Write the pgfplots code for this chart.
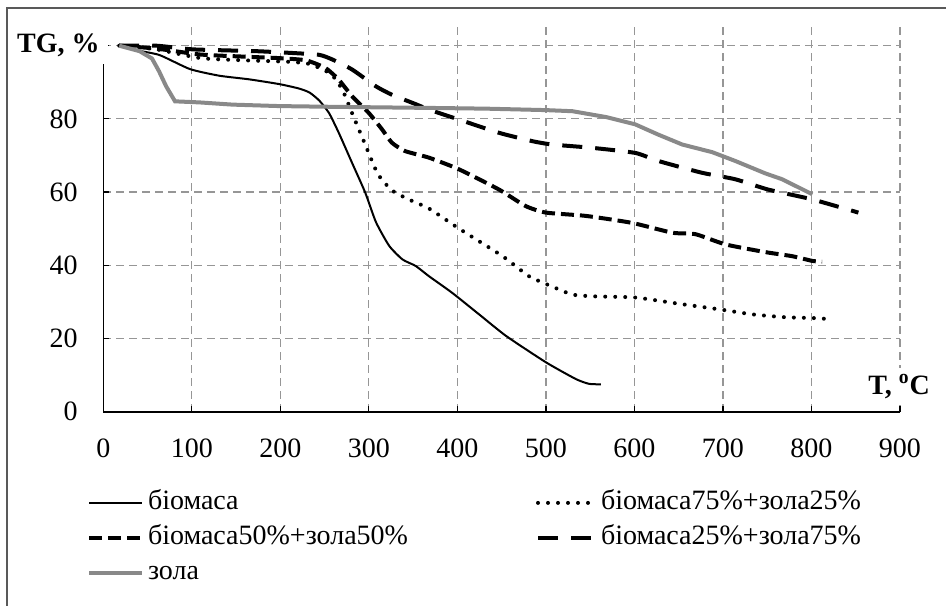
\documentclass[border=0pt]{standalone}
\usepackage{fontspec}
\setmainfont{Liberation Serif}
\usepackage{pgfplots}
\pgfplotsset{compat=1.18}
\definecolor{ashgray}{RGB}{137,137,137}
\definecolor{gridgray}{RGB}{150,150,150}
\begin{document}
\fontsize{14}{16.8}\selectfont
\begin{tikzpicture}[x=1pt,y=1pt]
\useasboundingbox (0,0) rectangle (473,302.5);
\draw[line width=0.75pt, color=black!65] (3.5,-2) -- (3.5,298.5) -- (476,298.5);
\begin{axis}[
  at={(51.65pt,96.65pt)}, anchor=south west,
  scale only axis, width=398.35pt, height=192.15pt,
  xmin=0, xmax=900, ymin=0, ymax=105,
  axis lines=left, axis line style={-, line width=0.8pt, black},
  xtick={0,100,...,900}, ytick={0,20,...,100},
  yticklabels={0,20,40,60,80,{}},
  xticklabel style={yshift=-8.75pt},
  yticklabel style={xshift=-8pt},
  tick align=inside, major tick length=3pt, tick style={black, line width=0.6pt},
  grid=major, grid style={dash pattern=on 4pt off 2.5pt, line width=0.6pt, color=gridgray},
  /pgf/number format/assume math mode=true,
  legend columns=2,
  legend cell align=left,
  legend style={draw=none, fill=none, inner sep=0pt, outer sep=0pt,
    at={(axis description cs:-0.02046,-0.2022)}, anchor=north west,
    row sep=4pt, column sep=2pt,
    nodes={inner sep=0pt, text height=10pt, text depth=3.5pt}},
  legend image code/.code={\draw[#1] (0pt,0pt) -- (26.5pt,0pt);},
]
\addplot[black, line width=1pt, smooth, tension=0.35] coordinates {
(18,100) (41,98.6) (64,97.4) (98,93.6) (131,91.8) (165,90.8) (199,89.5) (221,88.3) (233,87.2) (244,85) (255,81.6) (266,76.2) (281,68) (296,59.8) (308,51.8) (323,45.3) (338,41.6) (353,39.8) (368,37) (394,32.5) (425,26.5) (455,20.7) (500,13.5) (534,8.9) (549,7.6) (562,7.5)};
\addlegendentry{\makebox[192pt][l]{біомаса}}
\addplot[black, line width=2pt, line cap=round, dash pattern=on 0pt off 5pt, smooth, tension=0.35] coordinates {
(18,100) (60,99) (110,96.6) (160,96) (210,95.6) (233,95) (252,93) (262,91) (271,87.5) (282,81) (295,73.5) (310,65) (326,60.5) (345,58) (368,55.5) (402,50) (451,42.5) (481,37) (507,34.2) (530,32) (556,31.5) (601,31.2) (650,29.5) (695,28) (733,26.6) (771,25.8) (801,25.6) (820,25.3)};
\addlegendentry{\hspace*{2pt}біомаса75\%+зола25\%}
\addplot[black, line width=2pt, dash pattern=on 6.5pt off 3pt, smooth, tension=0.35] coordinates {
(18,100) (60,99.2) (109,97.6) (160,97) (199,96.6) (229,96) (251,93.9) (266,90.7) (281,86.2) (300,81.6) (315,77.1) (326,73.5) (341,71.2) (368,69.4) (402,66.2) (447,60.7) (477,56.2) (500,54.4) (545,53.5) (597,51.6) (643,48.9) (669,48.5) (703,45.7) (748,43.6) (778,42.5) (801,41.2) (812,41)};
\addlegendentry{\makebox[192pt][l]{біомаса50\%+зола50\%}}
\addplot[black, line width=2pt, dash pattern=on 10pt off 6.5pt, smooth, tension=0.35] coordinates {
(18,100) (60,100) (101,99) (173,98.5) (214,98) (244,97.5) (259,96.2) (281,93.5) (308,88.9) (326,86.6) (349,84.4) (372,82.2) (402,79.8) (447,76.2) (485,73.9) (507,73) (552,72.1) (601,70.7) (627,68.5) (676,65.3) (714,63.5) (751,60.7) (801,58) (853,54.4)};
\addlegendentry{\hspace*{2pt}біомаса25\%+зола75\%}
\addplot[ashgray, line width=2pt] coordinates {
(18,100) (41,98.5) (55,96.5) (63,93) (71,88.9) (81,84.8) (109,84.5) (146,83.9) (199,83.5) (259,83.3) (368,83) (432,82.8) (500,82.4) (530,82.1) (568,80.5) (601,78.5) (627,75.7) (654,73) (688,70.9) (714,68.5) (748,65.1) (767,63.5) (801,59.4)};
\addlegendentry{\makebox[192pt][l]{зола}}
\coordinate (tg) at (axis cs:0,100);
\coordinate (tc) at (axis cs:899,6.9);
\end{axis}
\node[fill=white, inner xsep=4pt, inner ysep=0pt, minimum height=18.5pt, anchor=east, font=\bfseries] at ([xshift=2.35pt]tg) {TG, \%};
\node[fill=white, inner xsep=2pt, inner ysep=0pt, minimum height=18.5pt, font=\bfseries] at (tc) {T, \textsuperscript{o}C};
\end{tikzpicture}
\end{document}
